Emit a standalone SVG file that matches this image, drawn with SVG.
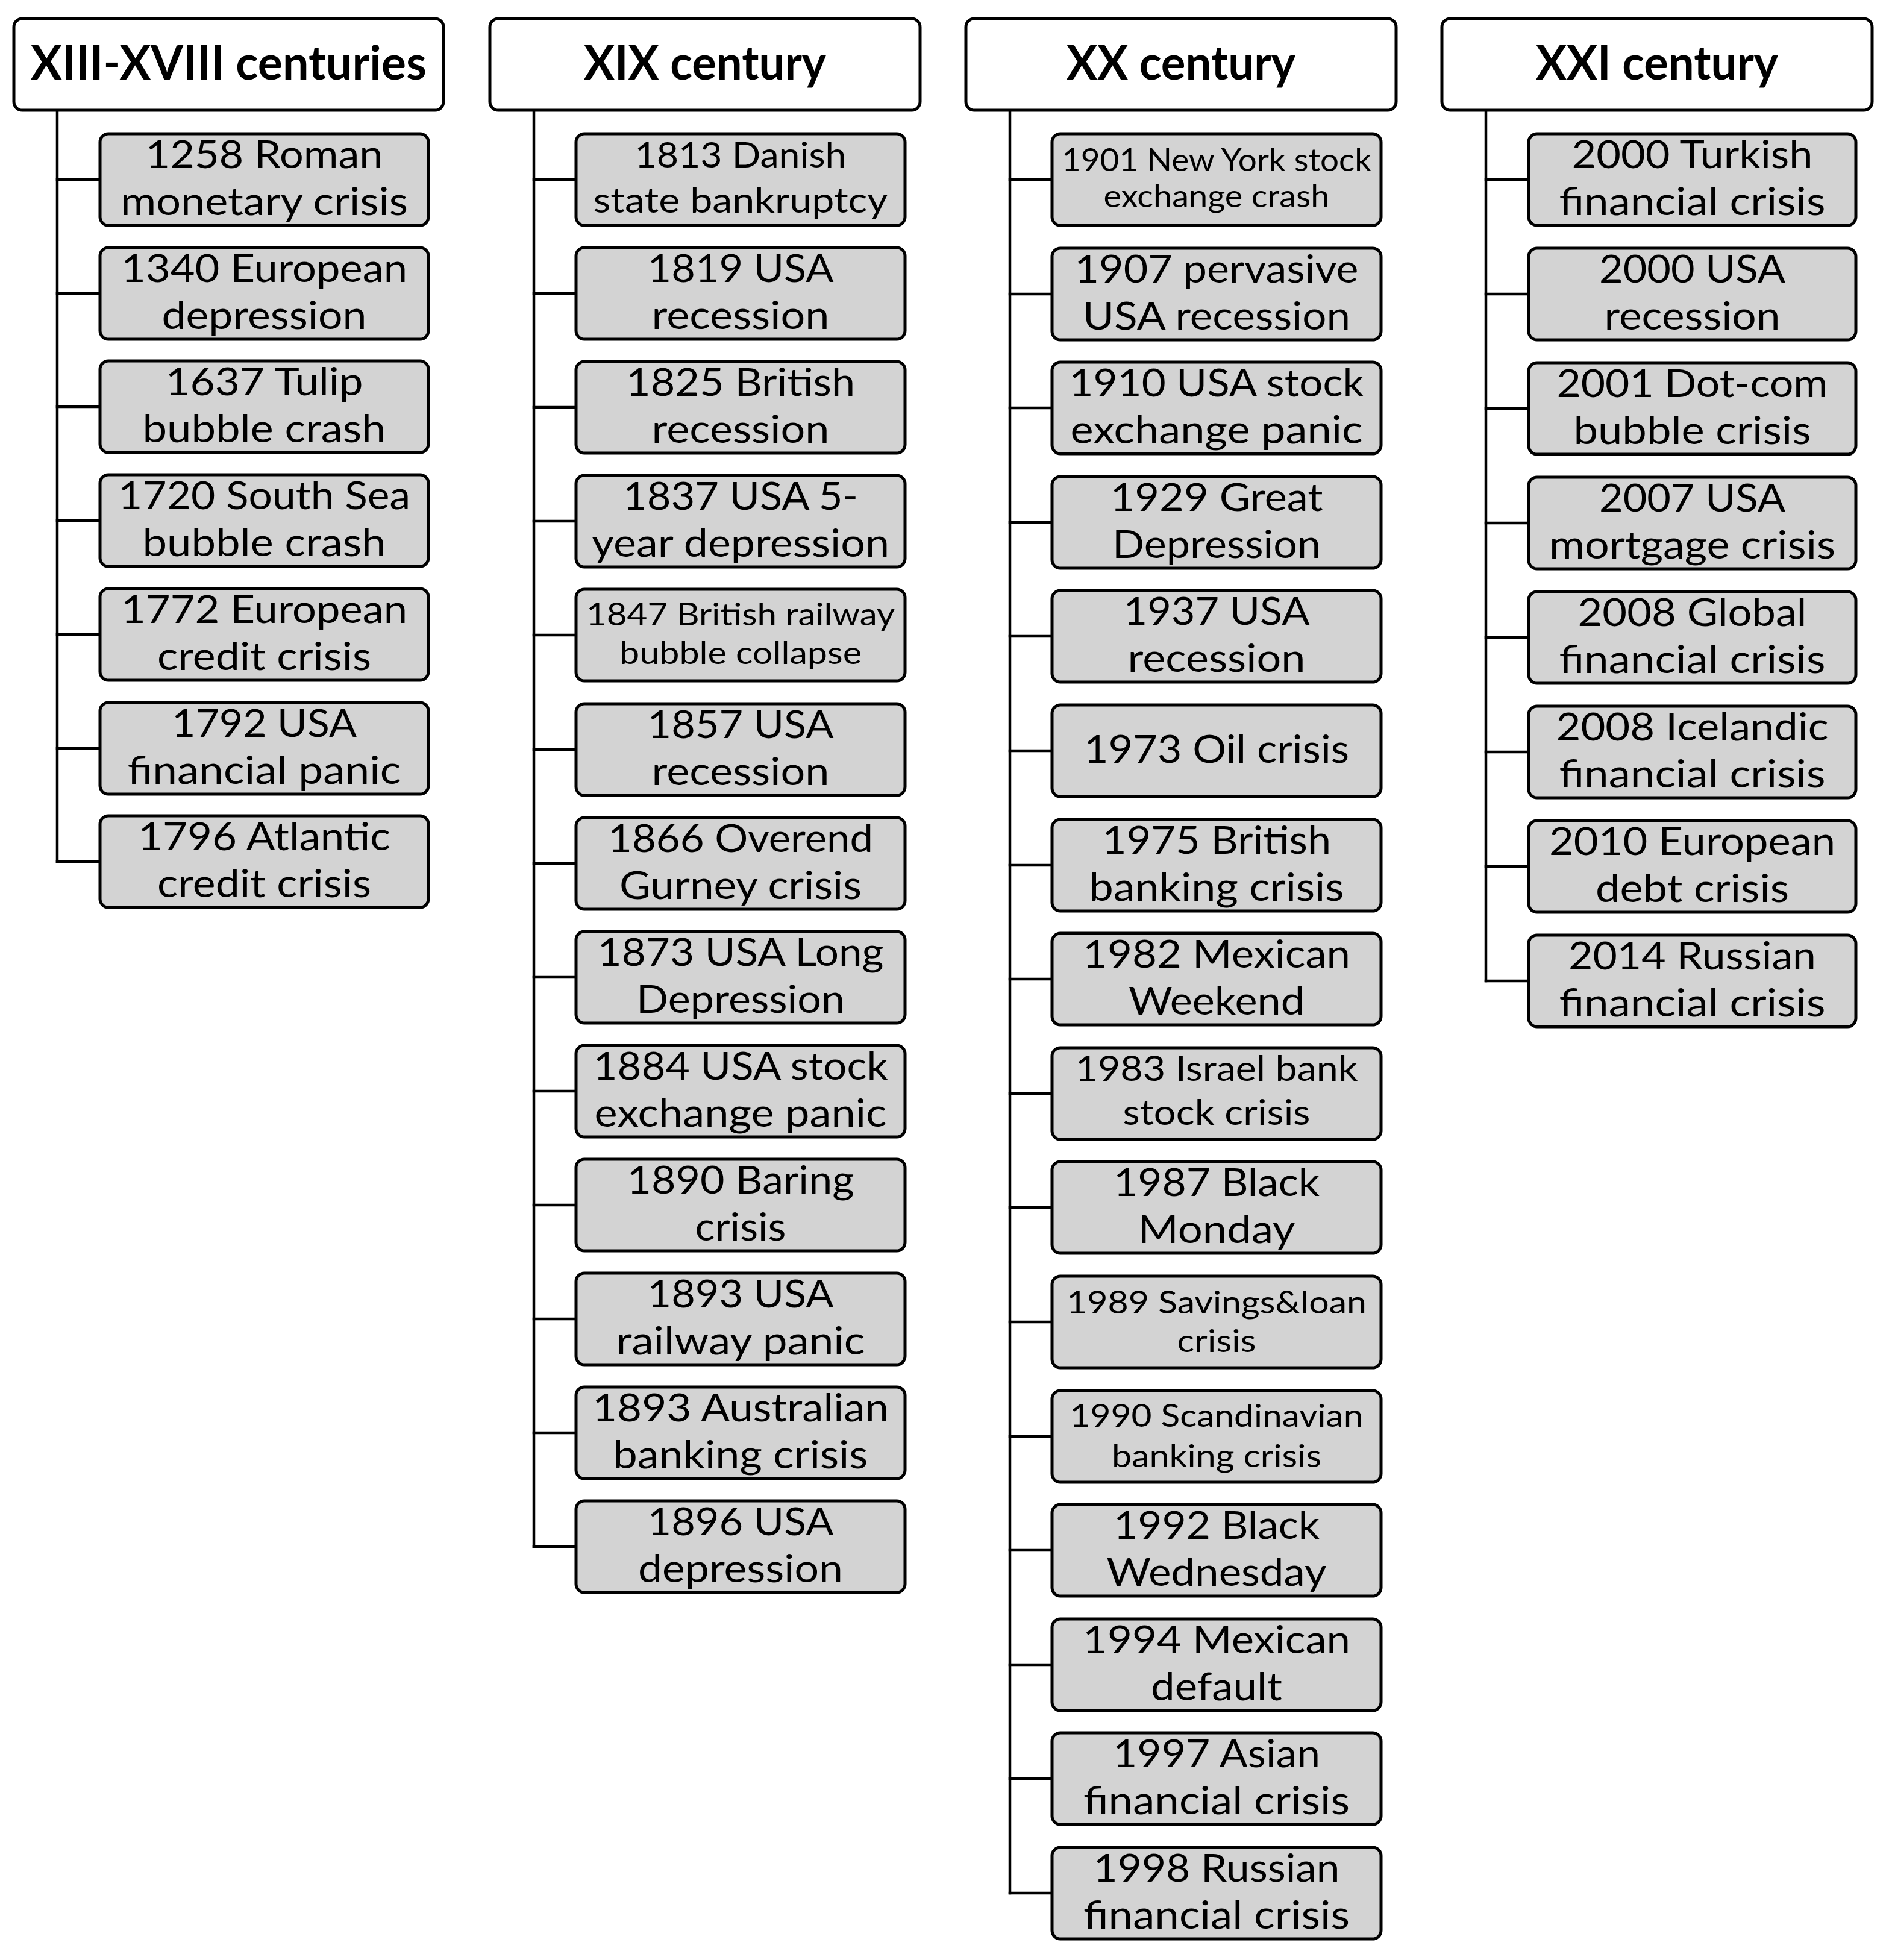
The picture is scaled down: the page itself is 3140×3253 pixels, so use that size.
<svg xmlns="http://www.w3.org/2000/svg" width="3140" height="3253" viewBox="0 0 3140 3253">
<style>
.hdr{fill:#ffffff;stroke:#000;stroke-width:5}
.box{fill:#d3d3d3;stroke:#000;stroke-width:5}
.ht{font-family:Lato,"Open Sans","Liberation Sans",sans-serif;font-weight:bold;font-size:78px;text-anchor:middle;fill:#000}
.t{font-family:Lato,"Open Sans","Liberation Sans",sans-serif;font-size:64px;text-anchor:middle;fill:#000}
.s{font-size:53px}
.m{font-size:58px}
.con line{stroke:#000;stroke-width:4.5;stroke-linecap:square}
</style>
<rect width="3140" height="3253" fill="#fff"/>
<g id="connectors" class="con">
<line x1="95" y1="183" x2="95" y2="1430"/>
<line x1="95" y1="298" x2="166" y2="298"/>
<line x1="95" y1="487" x2="166" y2="487"/>
<line x1="95" y1="675" x2="166" y2="675"/>
<line x1="95" y1="864" x2="166" y2="864"/>
<line x1="95" y1="1053" x2="166" y2="1053"/>
<line x1="95" y1="1242" x2="166" y2="1242"/>
<line x1="95" y1="1430" x2="166" y2="1430"/>
<line x1="886" y1="185" x2="886" y2="2567"/>
<line x1="886" y1="298" x2="956" y2="298"/>
<line x1="886" y1="487" x2="956" y2="487"/>
<line x1="886" y1="676" x2="956" y2="676"/>
<line x1="886" y1="865" x2="956" y2="865"/>
<line x1="886" y1="1054" x2="956" y2="1054"/>
<line x1="886" y1="1244" x2="956" y2="1244"/>
<line x1="886" y1="1433" x2="956" y2="1433"/>
<line x1="886" y1="1622" x2="956" y2="1622"/>
<line x1="886" y1="1811" x2="956" y2="1811"/>
<line x1="886" y1="2000" x2="956" y2="2000"/>
<line x1="886" y1="2189" x2="956" y2="2189"/>
<line x1="886" y1="2378" x2="956" y2="2378"/>
<line x1="886" y1="2567" x2="956" y2="2567"/>
<line x1="1676" y1="185" x2="1676" y2="3142"/>
<line x1="1676" y1="298" x2="1746" y2="298"/>
<line x1="1676" y1="488" x2="1746" y2="488"/>
<line x1="1676" y1="677" x2="1746" y2="677"/>
<line x1="1676" y1="867" x2="1746" y2="867"/>
<line x1="1676" y1="1056" x2="1746" y2="1056"/>
<line x1="1676" y1="1246" x2="1746" y2="1246"/>
<line x1="1676" y1="1436" x2="1746" y2="1436"/>
<line x1="1676" y1="1625" x2="1746" y2="1625"/>
<line x1="1676" y1="1815" x2="1746" y2="1815"/>
<line x1="1676" y1="2004" x2="1746" y2="2004"/>
<line x1="1676" y1="2194" x2="1746" y2="2194"/>
<line x1="1676" y1="2384" x2="1746" y2="2384"/>
<line x1="1676" y1="2573" x2="1746" y2="2573"/>
<line x1="1676" y1="2763" x2="1746" y2="2763"/>
<line x1="1676" y1="2952" x2="1746" y2="2952"/>
<line x1="1676" y1="3142" x2="1746" y2="3142"/>
<line x1="2466" y1="183" x2="2466" y2="1628"/>
<line x1="2466" y1="298" x2="2537" y2="298"/>
<line x1="2466" y1="488" x2="2537" y2="488"/>
<line x1="2466" y1="678" x2="2537" y2="678"/>
<line x1="2466" y1="868" x2="2537" y2="868"/>
<line x1="2466" y1="1058" x2="2537" y2="1058"/>
<line x1="2466" y1="1248" x2="2537" y2="1248"/>
<line x1="2466" y1="1438" x2="2537" y2="1438"/>
<line x1="2466" y1="1628" x2="2537" y2="1628"/>
</g>
<g id="h1"><rect class="hdr" x="23" y="31" width="713" height="152" rx="14"/><text class="ht" x="379.5" y="132" textLength="657" lengthAdjust="spacingAndGlyphs">XIII-XVIII centuries</text></g>
<g id="h2"><rect class="hdr" x="813" y="31" width="714" height="152" rx="14"/><text class="ht" x="1170" y="132" textLength="402" lengthAdjust="spacingAndGlyphs">XIX century</text></g>
<g id="h3"><rect class="hdr" x="1603" y="31" width="714" height="152" rx="14"/><text class="ht" x="1960" y="132" textLength="380" lengthAdjust="spacingAndGlyphs">XX century</text></g>
<g id="h4"><rect class="hdr" x="2393" y="31" width="714" height="152" rx="14"/><text class="ht" x="2750" y="132" textLength="402" lengthAdjust="spacingAndGlyphs">XXI century</text></g>

<g id="n1258"><rect class="box" x="166" y="222" width="545" height="152" rx="14"/><text class="t" x="438.5" y="279" textLength="394" lengthAdjust="spacingAndGlyphs">1258 Roman</text><text class="t" x="438.5" y="357" textLength="477" lengthAdjust="spacingAndGlyphs">monetary crisis</text></g>
<g id="n1340"><rect class="box" x="166" y="411" width="545" height="152" rx="14"/><text class="t" x="438.5" y="468" textLength="475" lengthAdjust="spacingAndGlyphs">1340 European</text><text class="t" x="438.5" y="546" textLength="340" lengthAdjust="spacingAndGlyphs">depression</text></g>
<g id="n1637"><rect class="box" x="166" y="599" width="545" height="152" rx="14"/><text class="t" x="438.5" y="656" textLength="328" lengthAdjust="spacingAndGlyphs">1637 Tulip</text><text class="t" x="438.5" y="734" textLength="404" lengthAdjust="spacingAndGlyphs">bubble crash</text></g>
<g id="n1720"><rect class="box" x="166" y="788" width="545" height="152" rx="14"/><text class="t" x="438.5" y="845" textLength="485" lengthAdjust="spacingAndGlyphs">1720 South Sea</text><text class="t" x="438.5" y="923" textLength="404" lengthAdjust="spacingAndGlyphs">bubble crash</text></g>
<g id="n1772"><rect class="box" x="166" y="977" width="545" height="152" rx="14"/><text class="t" x="438.5" y="1034" textLength="475" lengthAdjust="spacingAndGlyphs">1772 European</text><text class="t" x="438.5" y="1112" textLength="355" lengthAdjust="spacingAndGlyphs">credit crisis</text></g>
<g id="n1792"><rect class="box" x="166" y="1166" width="545" height="152" rx="14"/><text class="t" x="438.5" y="1223" textLength="307" lengthAdjust="spacingAndGlyphs">1792 USA</text><text class="t" x="438.5" y="1301" textLength="454" lengthAdjust="spacingAndGlyphs">financial panic</text></g>
<g id="n1796"><rect class="box" x="166" y="1354" width="545" height="152" rx="14"/><text class="t" x="438.5" y="1411" textLength="419" lengthAdjust="spacingAndGlyphs">1796 Atlantic</text><text class="t" x="438.5" y="1489" textLength="355" lengthAdjust="spacingAndGlyphs">credit crisis</text></g>

<g id="n1813"><rect class="box" x="956" y="222" width="546" height="152" rx="14"/><text class="t m" x="1229" y="278" textLength="351" lengthAdjust="spacingAndGlyphs">1813 Danish</text><text class="t m" x="1229" y="353" textLength="489" lengthAdjust="spacingAndGlyphs">state bankruptcy</text></g>
<g id="n1819"><rect class="box" x="956" y="411" width="546" height="152" rx="14"/><text class="t" x="1229" y="468" textLength="309" lengthAdjust="spacingAndGlyphs">1819 USA</text><text class="t" x="1229" y="546" textLength="295" lengthAdjust="spacingAndGlyphs">recession</text></g>
<g id="n1825"><rect class="box" x="956" y="600" width="546" height="152" rx="14"/><text class="t" x="1229" y="657" textLength="380" lengthAdjust="spacingAndGlyphs">1825 British</text><text class="t" x="1229" y="735" textLength="295" lengthAdjust="spacingAndGlyphs">recession</text></g>
<g id="n1837"><rect class="box" x="956" y="789" width="546" height="152" rx="14"/><text class="t" x="1229" y="846" textLength="390" lengthAdjust="spacingAndGlyphs">1837 USA 5-</text><text class="t" x="1229" y="924" textLength="494" lengthAdjust="spacingAndGlyphs">year depression</text></g>
<g id="n1847"><rect class="box" x="956" y="978" width="546" height="152" rx="14"/><text class="t s" x="1229" y="1038" textLength="512" lengthAdjust="spacingAndGlyphs">1847 British railway</text><text class="t s" x="1229" y="1102" textLength="402" lengthAdjust="spacingAndGlyphs">bubble collapse</text></g>
<g id="n1857"><rect class="box" x="956" y="1168" width="546" height="152" rx="14"/><text class="t" x="1229" y="1225" textLength="309" lengthAdjust="spacingAndGlyphs">1857 USA</text><text class="t" x="1229" y="1303" textLength="295" lengthAdjust="spacingAndGlyphs">recession</text></g>
<g id="n1866"><rect class="box" x="956" y="1357" width="546" height="152" rx="14"/><text class="t" x="1229" y="1414" textLength="440" lengthAdjust="spacingAndGlyphs">1866 Overend</text><text class="t" x="1229" y="1492" textLength="402" lengthAdjust="spacingAndGlyphs">Gurney crisis</text></g>
<g id="n1873"><rect class="box" x="956" y="1546" width="546" height="152" rx="14"/><text class="t" x="1229" y="1603" textLength="475" lengthAdjust="spacingAndGlyphs">1873 USA Long</text><text class="t" x="1229" y="1681" textLength="346" lengthAdjust="spacingAndGlyphs">Depression</text></g>
<g id="n1884"><rect class="box" x="956" y="1735" width="546" height="152" rx="14"/><text class="t" x="1229" y="1792" textLength="489" lengthAdjust="spacingAndGlyphs">1884 USA stock</text><text class="t" x="1229" y="1870" textLength="485" lengthAdjust="spacingAndGlyphs">exchange panic</text></g>
<g id="n1890"><rect class="box" x="956" y="1924" width="546" height="152" rx="14"/><text class="t" x="1229" y="1981" textLength="377" lengthAdjust="spacingAndGlyphs">1890 Baring</text><text class="t" x="1229" y="2059" textLength="151" lengthAdjust="spacingAndGlyphs">crisis</text></g>
<g id="n1893a"><rect class="box" x="956" y="2113" width="546" height="152" rx="14"/><text class="t" x="1229" y="2170" textLength="309" lengthAdjust="spacingAndGlyphs">1893 USA</text><text class="t" x="1229" y="2248" textLength="413" lengthAdjust="spacingAndGlyphs">railway panic</text></g>
<g id="n1893b"><rect class="box" x="956" y="2302" width="546" height="152" rx="14"/><text class="t" x="1229" y="2359" textLength="492" lengthAdjust="spacingAndGlyphs">1893 Australian</text><text class="t" x="1229" y="2437" textLength="423" lengthAdjust="spacingAndGlyphs">banking crisis</text></g>
<g id="n1896"><rect class="box" x="956" y="2491" width="546" height="152" rx="14"/><text class="t" x="1229" y="2548" textLength="309" lengthAdjust="spacingAndGlyphs">1896 USA</text><text class="t" x="1229" y="2626" textLength="340" lengthAdjust="spacingAndGlyphs">depression</text></g>

<g id="n1901"><rect class="box" x="1746" y="222" width="546" height="152" rx="14"/><text class="t s" x="2019" y="284" textLength="514" lengthAdjust="spacingAndGlyphs">1901 New York stock</text><text class="t s" x="2019" y="344" textLength="375" lengthAdjust="spacingAndGlyphs">exchange crash</text></g>
<g id="n1907"><rect class="box" x="1746" y="412" width="546" height="152" rx="14"/><text class="t" x="2019" y="469" textLength="471" lengthAdjust="spacingAndGlyphs">1907 pervasive</text><text class="t" x="2019" y="547" textLength="444" lengthAdjust="spacingAndGlyphs">USA recession</text></g>
<g id="n1910"><rect class="box" x="1746" y="601" width="546" height="152" rx="14"/><text class="t" x="2019" y="658" textLength="489" lengthAdjust="spacingAndGlyphs">1910 USA stock</text><text class="t" x="2019" y="736" textLength="485" lengthAdjust="spacingAndGlyphs">exchange panic</text></g>
<g id="n1929"><rect class="box" x="1746" y="791" width="546" height="152" rx="14"/><text class="t" x="2019" y="848" textLength="353" lengthAdjust="spacingAndGlyphs">1929 Great</text><text class="t" x="2019" y="926" textLength="346" lengthAdjust="spacingAndGlyphs">Depression</text></g>
<g id="n1937"><rect class="box" x="1746" y="980" width="546" height="152" rx="14"/><text class="t" x="2019" y="1037" textLength="309" lengthAdjust="spacingAndGlyphs">1937 USA</text><text class="t" x="2019" y="1115" textLength="295" lengthAdjust="spacingAndGlyphs">recession</text></g>
<g id="n1973"><rect class="box" x="1746" y="1170" width="546" height="152" rx="14"/><text class="t" x="2019" y="1266" textLength="440" lengthAdjust="spacingAndGlyphs">1973 Oil crisis</text></g>
<g id="n1975"><rect class="box" x="1746" y="1360" width="546" height="152" rx="14"/><text class="t" x="2019" y="1417" textLength="380" lengthAdjust="spacingAndGlyphs">1975 British</text><text class="t" x="2019" y="1495" textLength="423" lengthAdjust="spacingAndGlyphs">banking crisis</text></g>
<g id="n1982"><rect class="box" x="1746" y="1549" width="546" height="152" rx="14"/><text class="t" x="2019" y="1606" textLength="444" lengthAdjust="spacingAndGlyphs">1982 Mexican</text><text class="t" x="2019" y="1684" textLength="292" lengthAdjust="spacingAndGlyphs">Weekend</text></g>
<g id="n1983"><rect class="box" x="1746" y="1739" width="546" height="152" rx="14"/><text class="t m" x="2019" y="1794" textLength="469" lengthAdjust="spacingAndGlyphs">1983 Israel bank</text><text class="t m" x="2019" y="1867" textLength="311" lengthAdjust="spacingAndGlyphs">stock crisis</text></g>
<g id="n1987"><rect class="box" x="1746" y="1928" width="546" height="152" rx="14"/><text class="t" x="2019" y="1985" textLength="342" lengthAdjust="spacingAndGlyphs">1987 Black</text><text class="t" x="2019" y="2063" textLength="261" lengthAdjust="spacingAndGlyphs">Monday</text></g>
<g id="n1989"><rect class="box" x="1746" y="2118" width="546" height="152" rx="14"/><text class="t s" x="2019" y="2180" textLength="498" lengthAdjust="spacingAndGlyphs">1989 Savings&amp;loan</text><text class="t s" x="2019" y="2244" textLength="131" lengthAdjust="spacingAndGlyphs">crisis</text></g>
<g id="n1990"><rect class="box" x="1746" y="2308" width="546" height="152" rx="14"/><text class="t s" x="2019" y="2368" textLength="487" lengthAdjust="spacingAndGlyphs">1990 Scandinavian</text><text class="t s" x="2019" y="2435" textLength="348" lengthAdjust="spacingAndGlyphs">banking crisis</text></g>
<g id="n1992"><rect class="box" x="1746" y="2497" width="546" height="152" rx="14"/><text class="t" x="2019" y="2554" textLength="342" lengthAdjust="spacingAndGlyphs">1992 Black</text><text class="t" x="2019" y="2632" textLength="365" lengthAdjust="spacingAndGlyphs">Wednesday</text></g>
<g id="n1994"><rect class="box" x="1746" y="2687" width="546" height="152" rx="14"/><text class="t" x="2019" y="2744" textLength="444" lengthAdjust="spacingAndGlyphs">1994 Mexican</text><text class="t" x="2019" y="2822" textLength="218" lengthAdjust="spacingAndGlyphs">default</text></g>
<g id="n1997"><rect class="box" x="1746" y="2876" width="546" height="152" rx="14"/><text class="t" x="2019" y="2933" textLength="344" lengthAdjust="spacingAndGlyphs">1997 Asian</text><text class="t" x="2019" y="3011" textLength="442" lengthAdjust="spacingAndGlyphs">financial crisis</text></g>
<g id="n1998"><rect class="box" x="1746" y="3066" width="546" height="152" rx="14"/><text class="t" x="2019" y="3123" textLength="409" lengthAdjust="spacingAndGlyphs">1998 Russian</text><text class="t" x="2019" y="3201" textLength="442" lengthAdjust="spacingAndGlyphs">financial crisis</text></g>

<g id="n2000a"><rect class="box" x="2537" y="222" width="543" height="152" rx="14"/><text class="t" x="2808.5" y="279" textLength="400" lengthAdjust="spacingAndGlyphs">2000 Turkish</text><text class="t" x="2808.5" y="357" textLength="442" lengthAdjust="spacingAndGlyphs">financial crisis</text></g>
<g id="n2000b"><rect class="box" x="2537" y="412" width="543" height="152" rx="14"/><text class="t" x="2808.5" y="469" textLength="309" lengthAdjust="spacingAndGlyphs">2000 USA</text><text class="t" x="2808.5" y="547" textLength="292" lengthAdjust="spacingAndGlyphs">recession</text></g>
<g id="n2001"><rect class="box" x="2537" y="602" width="543" height="152" rx="14"/><text class="t" x="2808.5" y="659" textLength="450" lengthAdjust="spacingAndGlyphs">2001 Dot-com</text><text class="t" x="2808.5" y="737" textLength="394" lengthAdjust="spacingAndGlyphs">bubble crisis</text></g>
<g id="n2007"><rect class="box" x="2537" y="792" width="543" height="152" rx="14"/><text class="t" x="2808.5" y="849" textLength="309" lengthAdjust="spacingAndGlyphs">2007 USA</text><text class="t" x="2808.5" y="927" textLength="475" lengthAdjust="spacingAndGlyphs">mortgage crisis</text></g>
<g id="n2008a"><rect class="box" x="2537" y="982" width="543" height="152" rx="14"/><text class="t" x="2808.5" y="1039" textLength="380" lengthAdjust="spacingAndGlyphs">2008 Global</text><text class="t" x="2808.5" y="1117" textLength="442" lengthAdjust="spacingAndGlyphs">financial crisis</text></g>
<g id="n2008b"><rect class="box" x="2537" y="1172" width="543" height="152" rx="14"/><text class="t" x="2808.5" y="1229" textLength="452" lengthAdjust="spacingAndGlyphs">2008 Icelandic</text><text class="t" x="2808.5" y="1307" textLength="442" lengthAdjust="spacingAndGlyphs">financial crisis</text></g>
<g id="n2010"><rect class="box" x="2537" y="1362" width="543" height="152" rx="14"/><text class="t" x="2808.5" y="1419" textLength="475" lengthAdjust="spacingAndGlyphs">2010 European</text><text class="t" x="2808.5" y="1497" textLength="321" lengthAdjust="spacingAndGlyphs">debt crisis</text></g>
<g id="n2014"><rect class="box" x="2537" y="1552" width="543" height="152" rx="14"/><text class="t" x="2808.5" y="1609" textLength="411" lengthAdjust="spacingAndGlyphs">2014 Russian</text><text class="t" x="2808.5" y="1687" textLength="442" lengthAdjust="spacingAndGlyphs">financial crisis</text></g>
</svg>
